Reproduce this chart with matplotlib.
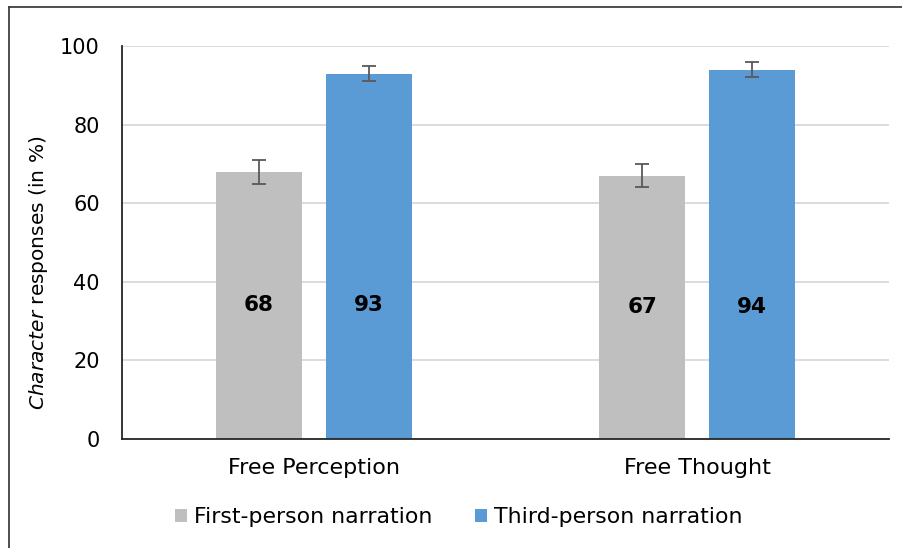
import matplotlib
matplotlib.use("Agg")
import matplotlib.pyplot as plt
import numpy as np
from matplotlib.lines import Line2D

categories = ["Free Perception", "Free Thought"]
series_names = ["First-person narration", "Third-person narration"]
first_person = [68, 67]
third_person = [93, 94]
first_err = [3, 3]
third_err = [2, 2]
colors = ["#bfbfbf", "#5b9bd5"]
yticks = [0, 20, 40, 60, 80, 100]

plt.rcParams['font.family'] = ['DejaVu Sans']
plt.rcParams['mathtext.fontset'] = 'dejavusans'

fig = plt.figure(figsize=(9.03, 5.48), dpi=100)
ax = fig.add_axes([122/903, 1-439/548, (889-122)/903, (439-46)/548])

x = np.arange(len(categories))
w = 0.224
off = 0.1434
ekw = dict(ecolor="#595959", elinewidth=1.3, capsize=5, capthick=1.3)
b1 = ax.bar(x - off, first_person, w, color=colors[0], label=series_names[0], zorder=2,
            yerr=first_err, error_kw=ekw)
b2 = ax.bar(x + off, third_person, w, color=colors[1], label=series_names[1], zorder=2,
            yerr=third_err, error_kw=ekw)

for i in range(len(categories)):
    ly = first_person[i] / 2
    ax.text(x[i] - off, ly, str(first_person[i]), ha="center", va="center",
            fontsize=15.5, fontweight="bold", zorder=3)
    ax.text(x[i] + off, ly, str(third_person[i]), ha="center", va="center",
            fontsize=15.5, fontweight="bold", zorder=3)

ax.set_xlim(-0.5, 1.5)
ax.set_ylim(0, 100)
ax.set_yticks(yticks)
ax.set_xticks(x)
ax.set_xticklabels(categories)
ax.tick_params(axis="y", length=0, labelsize=15, pad=16)
ax.tick_params(axis="x", length=0, labelsize=16, pad=14)
ax.yaxis.grid(True, color="#d9d9d9", linewidth=1.3, zorder=0)
ax.set_axisbelow(True)
for s in ["top", "right"]:
    ax.spines[s].set_visible(False)
ax.spines["left"].set_color("#262626")
ax.spines["bottom"].set_color("#262626")
ax.spines["left"].set_linewidth(1.3)
ax.spines["bottom"].set_linewidth(1.3)

ax.set_ylabel(r"$\it{Character}$ responses (in %)", fontsize=14.5)
ax.yaxis.set_label_coords(-0.094, (439-273)/(439-46))

leg = fig.legend(handles=[b1, b2], labels=series_names, loc="center", bbox_to_anchor=(0.508, 1-517/548),
                 ncol=2, frameon=False, fontsize=15.8, handlelength=0.55, handleheight=0.55,
                 handletextpad=0.35, columnspacing=1.9)

fig.add_artist(Line2D([9/903, 1], [1-6.5/548, 1-6.5/548], transform=fig.transFigure,
                      color="#404040", linewidth=1.3))
fig.add_artist(Line2D([9/903, 9/903], [0, 1-6.5/548], transform=fig.transFigure,
                      color="#404040", linewidth=1.3))

fig.savefig("out.png", dpi=100)
